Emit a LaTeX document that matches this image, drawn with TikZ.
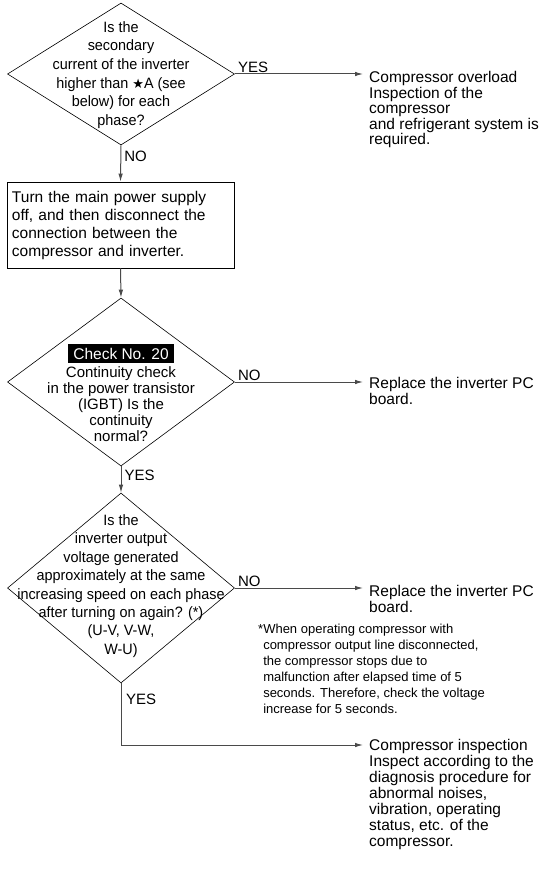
\documentclass[tikz,border=0pt]{standalone}
\usepackage{fontspec}
\setmainfont{Liberation Sans}
\newfontfamily\qfont{Liberation Sans}[FakeStretch=0.96]
\newfontfamily\symfont{DejaVu Sans}
\usetikzlibrary{positioning,shapes.geometric,arrows.meta}
\definecolor{wire}{HTML}{4A4A4A}

\begin{document}
\begin{tikzpicture}[x=1pt,y=-1pt,font=\fontsize{15.5}{16}\selectfont,
  >={Latex[length=8pt,width=4.5pt]},
  decision/.style={diamond,draw,line width=0.6pt,minimum width=227pt,inner sep=0pt},
  qtext/.style={align=center,inner sep=0pt},
  action/.style={draw,line width=0.8pt,minimum width=227pt,minimum height=86pt,text width=217pt,inner sep=5pt,align=left},
  result/.style={anchor=north west,align=left,inner xsep=6pt,inner ysep=0pt},
  flow/.style={->,wire,line width=1pt},
  lbl/.style={inner sep=1pt,text=black,font=\fontsize{15}{16}\selectfont}]
  \useasboundingbox (0,0) rectangle (545,872);

  % first question
  \node[decision,minimum height=142pt] (q1) at (121,74) {};
  \node[qtext,font=\qfont\fontsize{15}{18.6}\selectfont] (q1t) at (121,75) {Is the\\secondary\\current of the inverter\\higher than {\symfont\fontsize{13}{13}\selectfont★}A (see\\below) for each\\phase?};
  \node[result,font=\fontsize{15.5}{15.6}\selectfont] (r1) at (363,71) {Compressor overload\\Inspection of the\\compressor\\and refrigerant system is\\required.};
  \draw[flow] (q1.east) -- (q1.east -| r1.west);
  \node[lbl,anchor=south west] (y1) at ([xshift=2pt]q1.east) {YES};

  % power off step
  \node[action,font=\fontsize{15.5}{18}\selectfont] (act) at (120.5,225) {Turn the main power supply\\off, and then disconnect the\\connection between the\\compressor and inverter.};
  \draw[flow] (q1.south) -- node[lbl,pos=0.3,right=2pt] (n1) {NO} (act.north);

  % check no. 20
  \node[decision,minimum height=168pt] (q2) at (121,382) {};
  \node[fill=black,text=white,inner xsep=5pt,inner ysep=4pt] (chk) at (121,353.5) {Check No. 20};
  \node[qtext,font=\fontsize{15}{16}\selectfont] (q2t) at (121,404) {Continuity check\\in the power transistor\\(IGBT) Is the\\continuity\\normal?};
  \draw[flow] (act.south) -- (q2.north);
  \node[result] (r2) at (363,377) {Replace the inverter PC\\board.};
  \draw[flow] (q2.east) -- (q2.east -| r2.west);
  \node[lbl,anchor=south west] (n2) at ([xshift=2pt]q2.east) {NO};

  % output voltage
  \node[decision,minimum height=190pt] (q3) at (121,588) {};
  \node[qtext,font=\qfont\fontsize{15}{18.4}\selectfont] (q3t) at (121,586) {Is the\\inverter output\\voltage generated\\approximately at the same\\increasing speed on each phase\\after turning on again? (*)\\(U-V, V-W,\\W-U)};
  \draw[flow] (q2.south) -- node[lbl,pos=0.35,right=2pt] (y2) {YES} (q3.north);
  \node[result] (r3) at (363,585) {Replace the inverter PC\\board.};
  \draw[flow] (q3.east) -- (q3.east -| r3.west);
  \node[lbl,anchor=south west] (n3) at ([xshift=2pt]q3.east) {NO};
  \node[anchor=north west,align=left,inner sep=0pt,font=\fontsize{13}{16}\selectfont] (note) at (258,624) {*When operating compressor with\\\hphantom{*}compressor output line disconnected,\\\hphantom{*}the compressor stops due to\\\hphantom{*}malfunction after elapsed time of 5\\\hphantom{*}seconds. Therefore, check the voltage\\\hphantom{*}increase for 5 seconds.};

  % compressor inspection
  \node[result] (r4) at (363,739) {Compressor inspection\\Inspect according to the\\diagnosis procedure for\\abnormal noises,\\vibration, operating\\status, etc. of the\\compressor.};
  \coordinate (bend) at (121,745);
  \draw[flow] (q3.south) -- (bend) -- (bend -| r4.west);
  \node[lbl,anchor=north west] (y3) at ([xshift=4pt,yshift=-10pt]q3.south) {YES};
\end{tikzpicture}
\end{document}
